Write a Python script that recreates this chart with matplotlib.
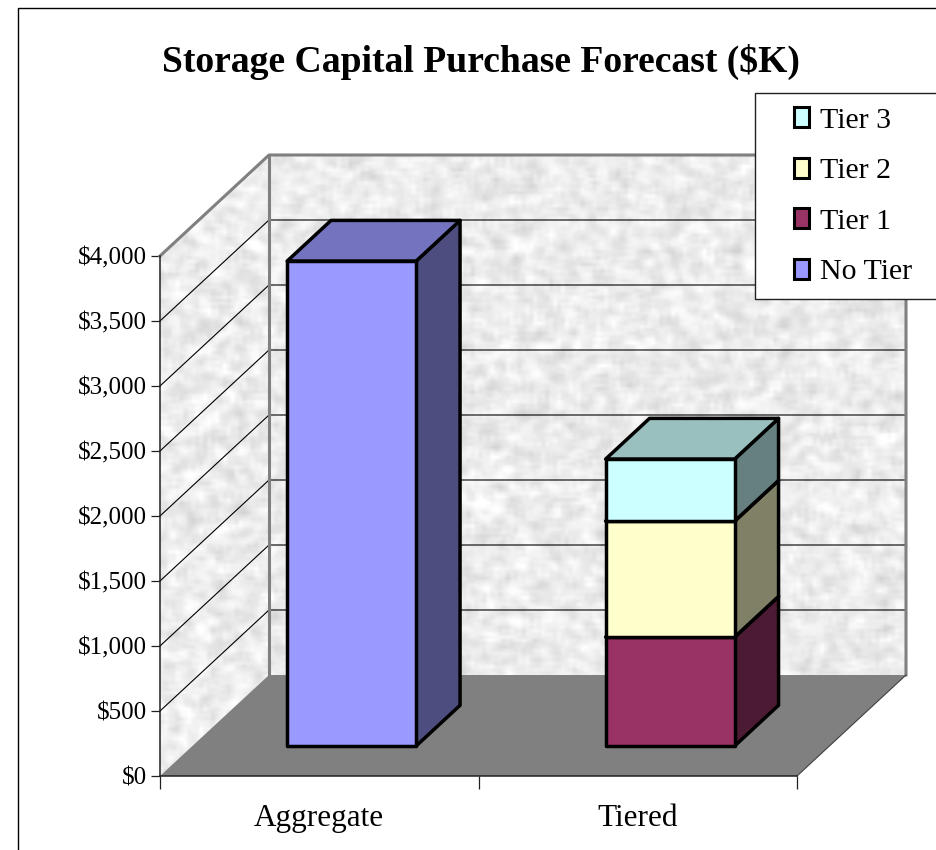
import numpy as np
import matplotlib
matplotlib.use("Agg")
import matplotlib.pyplot as plt
from matplotlib.patches import Polygon, Rectangle
from matplotlib.lines import Line2D
from matplotlib.legend_handler import HandlerPatch

categories = ["Aggregate", "Tiered"]
series_names = ["No Tier", "Tier 1", "Tier 2", "Tier 3"]
no_tier = [3730, 0]
tier_1 = [0, 838]
tier_2 = [0, 892]
tier_3 = [0, 477]
y_ticks = [0, 500, 1000, 1500, 2000, 2500, 3000, 3500, 4000]
y_labels = ["$0", "$500", "$1,000", "$1,500", "$2,000", "$2,500", "$3,000", "$3,500", "$4,000"]
title = "Storage Capital Purchase Forecast ($K)"

front = ["#9999FF", "#993366", "#FFFFCC", "#CCFFFF"]
top = ["#7373BF", "#73264D", "#BFBF99", "#99BFBF"]
side = ["#4D4D80", "#4D1A33", "#808066", "#668080"]

W, H = 936, 850
plt.rcParams["font.family"] = ["Liberation Serif", "DejaVu Serif"]
fig = plt.figure(figsize=(W / 100, H / 100), dpi=100, facecolor="white")
ax = fig.add_axes([160 / W, (H - 776) / H, 637 / W, 520 / H])
ax.patch.set_visible(False)

DX = 109 / 318.5
DY = 101 / 0.13
BAR_W = 0.405
D0, D1 = 0.297, 0.70


def project(x, v, d):
    return (x + d * DX, v + d * DY)


def wall_texture(nx, ny):
    jj, ii = np.meshgrid(np.arange(nx), np.arange(ny))
    h = np.sin(ii * 12.9898 + jj * 78.233) * 43758.5453
    h = h - np.floor(h)
    s = np.zeros_like(h)
    for a in (-1, 0, 1):
        for b in (-1, 0, 1):
            s += np.roll(np.roll(h, a, 0), b, 1)
    s /= 9
    s = (s - s.mean()) / s.std()
    return np.clip(0.925 + 0.03 * s, 0.78, 1.0)


tex = wall_texture(190, 190)
ims = ax.imshow(tex, cmap="gray", vmin=0, vmax=1, aspect="auto", interpolation="bilinear",
                extent=(0, project(2, 0, 1)[0], 0, project(0, 4000, 1)[1]),
                origin="lower", zorder=1)
wall_poly = Polygon([project(0, 0, 0), project(0, 0, 1), project(2, 0, 1), project(2, 4000, 1),
                     project(0, 4000, 1), project(0, 4000, 0)], closed=True,
                    transform=ax.transData, fc="none", ec="none")
ax.add_patch(wall_poly)
wall_poly.set_clip_on(False)
ims.set_clip_path(wall_poly)
ims.set_clip_box(fig.bbox)
ax.set_xlim(0, 2)
ax.set_ylim(0, 4000)

# floor
ax.add_patch(Polygon([project(0, 0, 0), project(0, 0, 1), project(2, 0, 1), project(2, 0, 0)],
                     closed=True, fc="#808080", ec="none", zorder=2, clip_on=False))

# gridlines on both walls
for v in y_ticks[1:-1]:
    p0, p1, p2 = project(0, v, 0), project(0, v, 1), project(2, v, 1)
    ax.plot([p0[0], p1[0], p2[0]], [p0[1], p1[1], p2[1]], color="black", lw=0.8,
            zorder=3, clip_on=False, solid_joinstyle="miter")

# wall edges
a, b, c, d = project(0, 4000, 0), project(0, 4000, 1), project(2, 4000, 1), project(2, 0, 1)
ax.plot([a[0], b[0], c[0], d[0]], [a[1], b[1], c[1], d[1]], color="#808080", lw=2.2,
        zorder=3, clip_on=False)
e = project(0, 0, 1)
ax.plot([b[0], e[0]], [b[1], e[1]], color="#808080", lw=2.2, zorder=3, clip_on=False)
f = project(2, 0, 0)
ax.plot([f[0], d[0]], [f[1], d[1]], color="#404040", lw=0.8, zorder=3, clip_on=False)


def box(xc, v0, v1, i):
    x0, x1 = xc - BAR_W / 2, xc + BAR_W / 2
    kw = dict(closed=True, ec="black", lw=2.5, joinstyle="round", clip_on=False, zorder=5)
    ax.add_patch(Polygon([project(x1, v0, D0), project(x1, v0, D1), project(x1, v1, D1), project(x1, v1, D0)],
                         fc=side[i], **kw))
    ax.add_patch(Polygon([project(x0, v1, D0), project(x1, v1, D0), project(x1, v1, D1), project(x0, v1, D1)],
                         fc=top[i], **kw))
    ax.add_patch(Polygon([project(x0, v0, D0), project(x1, v0, D0), project(x1, v1, D0), project(x0, v1, D0)],
                         fc=front[i], **kw))


for k, xc in enumerate([0.5, 1.5]):
    base = 0
    for i, vals in enumerate([no_tier, tier_1, tier_2, tier_3]):
        if vals[k] > 0:
            box(xc, base, base + vals[k], i)
            base += vals[k]

# axes
for s in ("top", "right"):
    ax.spines[s].set_visible(False)
for s in ("left", "bottom"):
    ax.spines[s].set_linewidth(1.1)
    ax.spines[s].set_color("#202020")
    ax.spines[s].set_zorder(4)
ax.set_yticks(y_ticks)
ax.set_yticklabels(y_labels, fontsize=18)
ax.tick_params(axis="y", length=6.5, width=0.9, pad=3, color="#202020")
ax.set_xticks([0, 1, 2])
ax.set_xticklabels([])
ax.tick_params(axis="x", which="major", length=9, width=0.9, color="#202020")
ax.set_xticks([0.5, 1.5], minor=True)
ax.set_xticklabels(categories, minor=True, fontsize=22.5)
ax.tick_params(axis="x", which="minor", length=0, pad=20)

fig.text(481 / W, 1 - 62 / H, title, ha="center", va="center", fontsize=27.1, fontweight="bold")

# outer frame
fig.add_artist(Line2D([18 / W, 18 / W, 1], [0, 1 - 7.5 / H, 1 - 7.5 / H], color="black", lw=1.0,
                      transform=fig.transFigure))


# legend
def square(legend, orig_handle, xdescent, ydescent, width, height, fontsize):
    return Rectangle((width - 10.8 - xdescent, height / 2 - 7.2 - ydescent), 10.8, 14.4)


order = [3, 2, 1, 0]
handles = [Rectangle((0, 0), 1, 1, fc=front[i], ec="black", lw=2.2) for i in order]
labels = [series_names[i] for i in order]
leg = fig.legend(handles, labels, loc="upper left",
                 bbox_to_anchor=(755 / W, 0, 195 / W, 1 - 93 / H), bbox_transform=fig.transFigure,
                 mode="expand", borderaxespad=0, fontsize=21.5,
                 handler_map={Rectangle: HandlerPatch(patch_func=square)},
                 handlelength=1.35, handleheight=0.7, handletextpad=0.35, labelspacing=0.79,
                 borderpad=0.46, frameon=True, fancybox=False, edgecolor="#202020",
                 framealpha=1, facecolor="white")
leg.get_frame().set_linewidth(1.0)
leg.set_zorder(20)

fig.savefig("out.png", dpi=100)
